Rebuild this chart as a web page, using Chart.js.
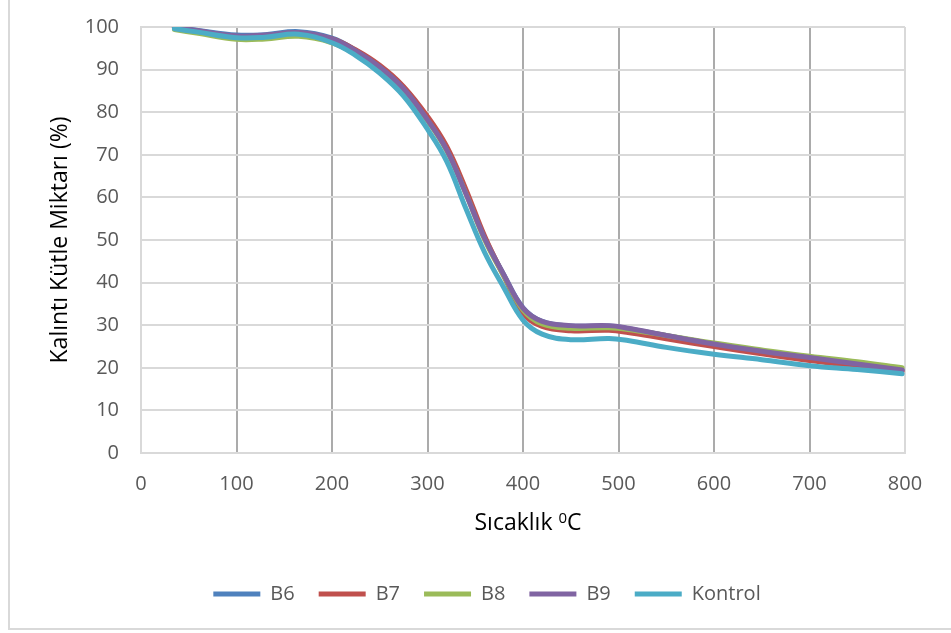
<!DOCTYPE html>
<html>
<head>
<meta charset="utf-8">
<script src="https://cdn.jsdelivr.net/npm/chart.js@4.4.0/dist/chart.umd.min.js"></script>
<style>
  html, body { margin: 0; padding: 0; background: #ffffff; }
  #wrap { position: relative; width: 951px; height: 633px; overflow: hidden; }
  #wrap canvas { position: absolute; left: 0; top: 0; }
  #frame {
    position: absolute; left: 8px; top: -4px; width: 960px; height: 634px;
    box-sizing: border-box; border: 2px solid #d9d9d9; pointer-events: none;
  }
</style>
</head>
<body>
<div id="wrap">
  <canvas id="tga" width="951" height="633"></canvas>
  <div id="frame"></div>
</div>
<script>
// Temperature (°C) at which the residual mass was sampled
const temperatures = [35, 60, 100, 130, 165, 200, 225, 250, 275, 300, 320, 340, 360, 380, 400, 420, 450, 490, 510, 550, 600, 650, 700, 750, 797];

// Residual mass (%) for each sample
const b6      = [100.0, 99.2, 98.1, 98.2, 98.9, 97.4, 94.5, 90.7, 85.8, 78.6, 71.5, 61.5, 50.5, 41.8, 34.1, 30.9, 29.8, 29.8, 29.2, 27.6, 25.6, 23.9, 22.3, 20.9, 19.5];
const b7      = [99.9, 99.0, 97.8, 98.0, 98.6, 97.2, 94.6, 91.0, 86.0, 79.0, 72.0, 62.0, 50.8, 41.5, 32.8, 29.7, 28.7, 28.8, 28.3, 26.8, 25.0, 23.3, 21.7, 20.4, 19.2];
const b8      = [99.4, 98.5, 97.1, 97.2, 97.8, 96.3, 93.6, 90.0, 85.0, 78.0, 71.0, 61.0, 50.0, 41.5, 33.6, 30.3, 29.3, 29.4, 29.0, 27.6, 25.8, 24.2, 22.7, 21.4, 20.0];
const b9      = [99.9, 99.1, 97.9, 98.1, 98.7, 97.2, 94.4, 90.6, 85.5, 78.2, 71.2, 61.0, 50.3, 41.8, 34.0, 30.9, 29.9, 29.9, 29.3, 27.6, 25.6, 23.9, 22.4, 20.9, 19.5];
const kontrol = [99.6, 98.8, 97.5, 97.6, 98.3, 96.3, 93.3, 89.2, 83.8, 76.0, 68.5, 57.5, 47.0, 38.8, 31.2, 27.9, 26.6, 26.9, 26.4, 24.8, 23.2, 21.9, 20.5, 19.6, 18.6];

const seriesNames  = ['B6', 'B7', 'B8', 'B9', 'Kontrol'];
const seriesValues = [b6, b7, b8, b9, kontrol];
const seriesColors = ['#4F81BD', '#C0504D', '#9BBB59', '#8064A2', '#4BACC6'];

const xTitleParts = ['Sıcaklık ', '0', 'C'];
const yTitle = 'Kalıntı Kütle Miktarı (%)';

const FONT = "'Open Sans', 'DejaVu Sans', sans-serif";
const TICK_COLOR = '#595959';
const GRID_LIGHT = '#d9d9d9';
const GRID_DARK = '#ababab';

function toPoints(values) {
  return temperatures.map((t, i) => ({ x: t, y: values[i] }));
}

const datasets = seriesNames.map((name, i) => ({
  label: name,
  data: toPoints(seriesValues[i]),
  borderColor: seriesColors[i],
  backgroundColor: seriesColors[i],
  borderWidth: 5,
  borderCapStyle: 'round',
  borderJoinStyle: 'round',
  pointRadius: 0,
  pointHoverRadius: 0,
  fill: false,
  tension: 0.4,
  // later series are painted over earlier ones
  order: seriesNames.length - i
}));

// Keep the legend row centred under the whole frame rather than the plot
const legendPlacement = {
  id: 'legendPlacement',
  afterLayout(chart) {
    const lg = chart.legend;
    if (!lg || !lg.lineWidths) return;
    const pad = lg.options.labels.padding;
    const rowWidth = lg.lineWidths[0];
    const startX = (lg.left + pad + lg.right - rowWidth) / 2;
    const wantedStart = 487 - (rowWidth - pad) / 2;
    const dx = wantedStart - startX;
    lg.left += dx;
    lg.right += dx;
  }
};

// X axis caption with a raised degree zero
const xCaption = {
  id: 'xCaption',
  afterDraw(chart) {
    const ctx = chart.ctx;
    const sizes = [23, 15, 23];
    const lifts = [0, -7, 0];
    ctx.save();
    ctx.fillStyle = '#000000';
    ctx.textBaseline = 'alphabetic';
    ctx.textAlign = 'left';
    const widths = xTitleParts.map((t, i) => {
      ctx.font = sizes[i] + 'px ' + FONT;
      return ctx.measureText(t).width;
    });
    const total = widths.reduce((a, b) => a + b, 0);
    let x = 528 - total / 2;
    const baseline = 530;
    xTitleParts.forEach((t, i) => {
      ctx.font = sizes[i] + 'px ' + FONT;
      ctx.fillText(t, x, baseline + lifts[i]);
      x += widths[i];
    });
    ctx.restore();
  }
};

new Chart(document.getElementById('tga'), {
  type: 'line',
  data: { datasets },
  plugins: [legendPlacement, xCaption],
  options: {
    responsive: false,
    animation: false,
    devicePixelRatio: 1,
    layout: { padding: { left: 0, right: 46, top: 27, bottom: 19 } },
    plugins: {
      tooltip: { enabled: false },
      title: { display: false },
      legend: {
        position: 'bottom',
        align: 'center',
        labels: {
          usePointStyle: true,
          pointStyle: 'line',
          pointStyleWidth: 47,
          padding: 24,
          color: TICK_COLOR,
          font: { family: FONT, size: 20 },
          sort: (a, b) => a.datasetIndex - b.datasetIndex
        }
      }
    },
    scales: {
      x: {
        type: 'linear',
        min: 0,
        max: 800,
        afterFit(scale) { scale.height = 107; },
        ticks: {
          stepSize: 100,
          padding: 19,
          color: TICK_COLOR,
          font: { family: FONT, size: 20 },
          maxRotation: 0
        },
        grid: {
          drawTicks: false,
          lineWidth: 2,
          color: (ctx) => {
            const v = ctx.tick ? ctx.tick.value : null;
            return (v === 0 || v === 800) ? GRID_LIGHT : GRID_DARK;
          }
        },
        border: { display: true, color: GRID_LIGHT, width: 2 },
        title: { display: false }
      },
      y: {
        min: 0,
        max: 100,
        afterFit(scale) {
          scale.width = 141;
          // the label gap is horizontal only; don't let it pad the plot vertically
          scale.paddingTop = 12;
          scale.paddingBottom = 12;
        },
        ticks: {
          stepSize: 10,
          padding: 22,
          color: TICK_COLOR,
          font: { family: FONT, size: 20 }
        },
        grid: {
          drawTicks: false,
          lineWidth: 2,
          color: GRID_LIGHT
        },
        border: { display: true, color: GRID_LIGHT, width: 2 },
        title: {
          display: true,
          text: yTitle,
          color: '#000000',
          font: { family: FONT, size: 23 },
          padding: { top: 47, bottom: 0 }
        }
      }
    }
  }
});
</script>
</body>
</html>
